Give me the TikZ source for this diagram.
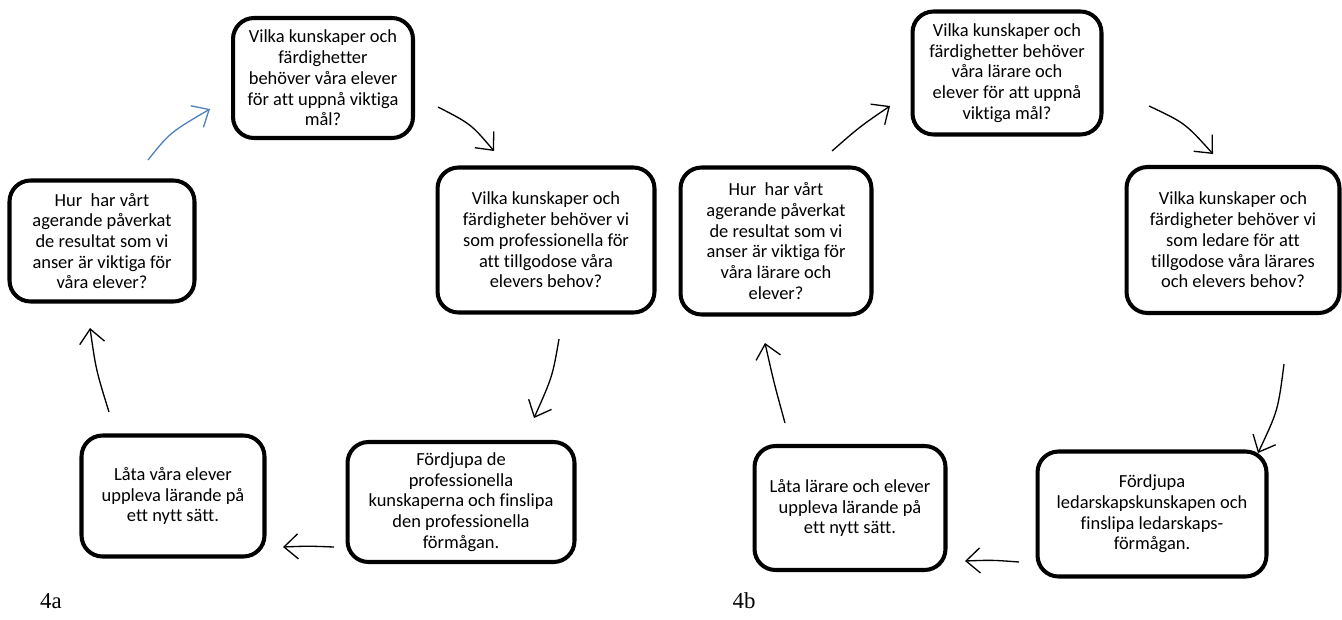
\documentclass[tikz,border=0pt]{standalone}
\usepackage{fontspec}
\setmainfont{Carlito}[Ligatures={NoCommon}]
\newfontfamily\labelfont{Liberation Serif}
\usetikzlibrary{arrows.meta}
\definecolor{arrowblue}{HTML}{4F81BD}
\tikzset{
  box/.style={draw=black, line width=2.3pt, rounded corners=0.42cm, fill=white,
    align=center, inner sep=0pt, font=\fontsize{10.5}{11.8}\selectfont},
  flow/.style={line width=0.75pt, -{Straight Barb[length=2.8mm,width=5mm,line width=0.75pt]}},
  figlabel/.style={font=\labelfont\fontsize{13}{15}\selectfont, inner sep=0pt}
}
\begin{document}
\begin{tikzpicture}[x=0.02cm,y=-0.02cm]
\useasboundingbox (0,0) rectangle (1342,619);
% ---- 4a ----
\node[box, minimum width=3.6cm, minimum height=2.4cm] (a1) at (323,78)
  {Vilka kunskaper och\\ färdighetter\\ behöver våra elever\\ för att uppnå viktiga\\ mål?};
\node[box, minimum width=4.34cm, minimum height=2.9cm] (a2) at (546,240)
  {Vilka kunskaper och\\ färdigheter behöver vi\\ som professionella för\\ att tillgodose våra\\ elevers behov?};
\node[box, minimum width=4.54cm, minimum height=2.4cm] (a3) at (461,502)
  {Fördjupa de\\ professionella\\ kunskaperna och finslipa\\ den professionella\\ förmågan.};
\node[box, minimum width=3.66cm, minimum height=2.42cm] (a4) at (173,496)
  {Låta våra elever\\ uppleva lärande på\\ ett nytt sätt.};
\node[box, minimum width=3.7cm, minimum height=2.42cm] (a5) at (102,241)
  {Hur\ \ har vårt\\ agerande påverkat\\ de resultat som vi\\ anser är viktiga för\\ våra elever?};
\node[figlabel] (la) at (51,601) {4a};
% arrows 4a
\coordinate (a51s) at (148,160); \coordinate (a51e) at (210,109);
\coordinate (a12s) at (438,107); \coordinate (a12e) at (494,151);
\coordinate (a23s) at (559,339); \coordinate (a23e) at (534,418);
\coordinate (a34s) at (334,547); \coordinate (a34e) at (283,547);
\coordinate (a45s) at (109,412); \coordinate (a45e) at (90,328);
\draw[flow, arrowblue] (a51s) .. controls (170,132.5) .. (a51e);
\draw[flow] (a12s) .. controls (471,124) .. (a12e);
\draw[flow] (a23s) .. controls (552.5,376.5) .. (a23e);
\draw[flow] (a34s) .. controls (308,546) .. (a34e);
\draw[flow] (a45s) .. controls (96,370) .. (a45e);
% ---- 4b ----
\node[box, minimum width=3.78cm, minimum height=2.46cm] (b1) at (1007,73)
  {Vilka kunskaper och\\ färdighetter behöver\\ våra lärare och\\ elever för att uppnå\\ viktiga mål?};
\node[box, minimum width=4.26cm, minimum height=2.92cm] (b2) at (1233,240)
  {Vilka kunskaper och\\ färdigheter behöver vi\\ som ledare för att\\ tillgodose våra lärares\\ och elevers behov?};
\node[box, minimum width=4.58cm, minimum height=2.5cm] (b3) at (1152,514)
  {Fördjupa\\ ledarskapskunskapen och\\ finslipa ledarskaps-\\ förmågan.};
\node[box, minimum width=3.82cm, minimum height=2.48cm] (b4) at (850,508)
  {Låta lärare och elever\\ uppleva lärande på\\ ett nytt sätt.};
\node[box, minimum width=3.82cm, minimum height=2.94cm] (b5) at (776,241)
  {Hur\ \ har vårt\\ agerande påverkat\\ de resultat som vi\\ anser är viktiga för\\ våra lärare och\\ elever?};
\node[figlabel] (lb) at (744,601) {4b};
% arrows 4b
\coordinate (b51s) at (832,151); \coordinate (b51e) at (890,106);
\coordinate (b12s) at (1149,106); \coordinate (b12e) at (1213,154);
\coordinate (b23s) at (1284,364); \coordinate (b23e) at (1258,453);
\coordinate (b34s) at (1019,562); \coordinate (b34e) at (965,561);
\coordinate (b45s) at (785,423); \coordinate (b45e) at (765,343);
\draw[flow] (b51s) .. controls (860,126.5) .. (b51e);
\draw[flow] (b12s) .. controls (1185,123) .. (b12e);
\draw[flow] (b23s) .. controls (1278,410.5) .. (b23e);
\draw[flow] (b34s) .. controls (992,560) .. (b34e);
\draw[flow] (b45s) .. controls (774,383) .. (b45e);
\end{tikzpicture}
\end{document}
